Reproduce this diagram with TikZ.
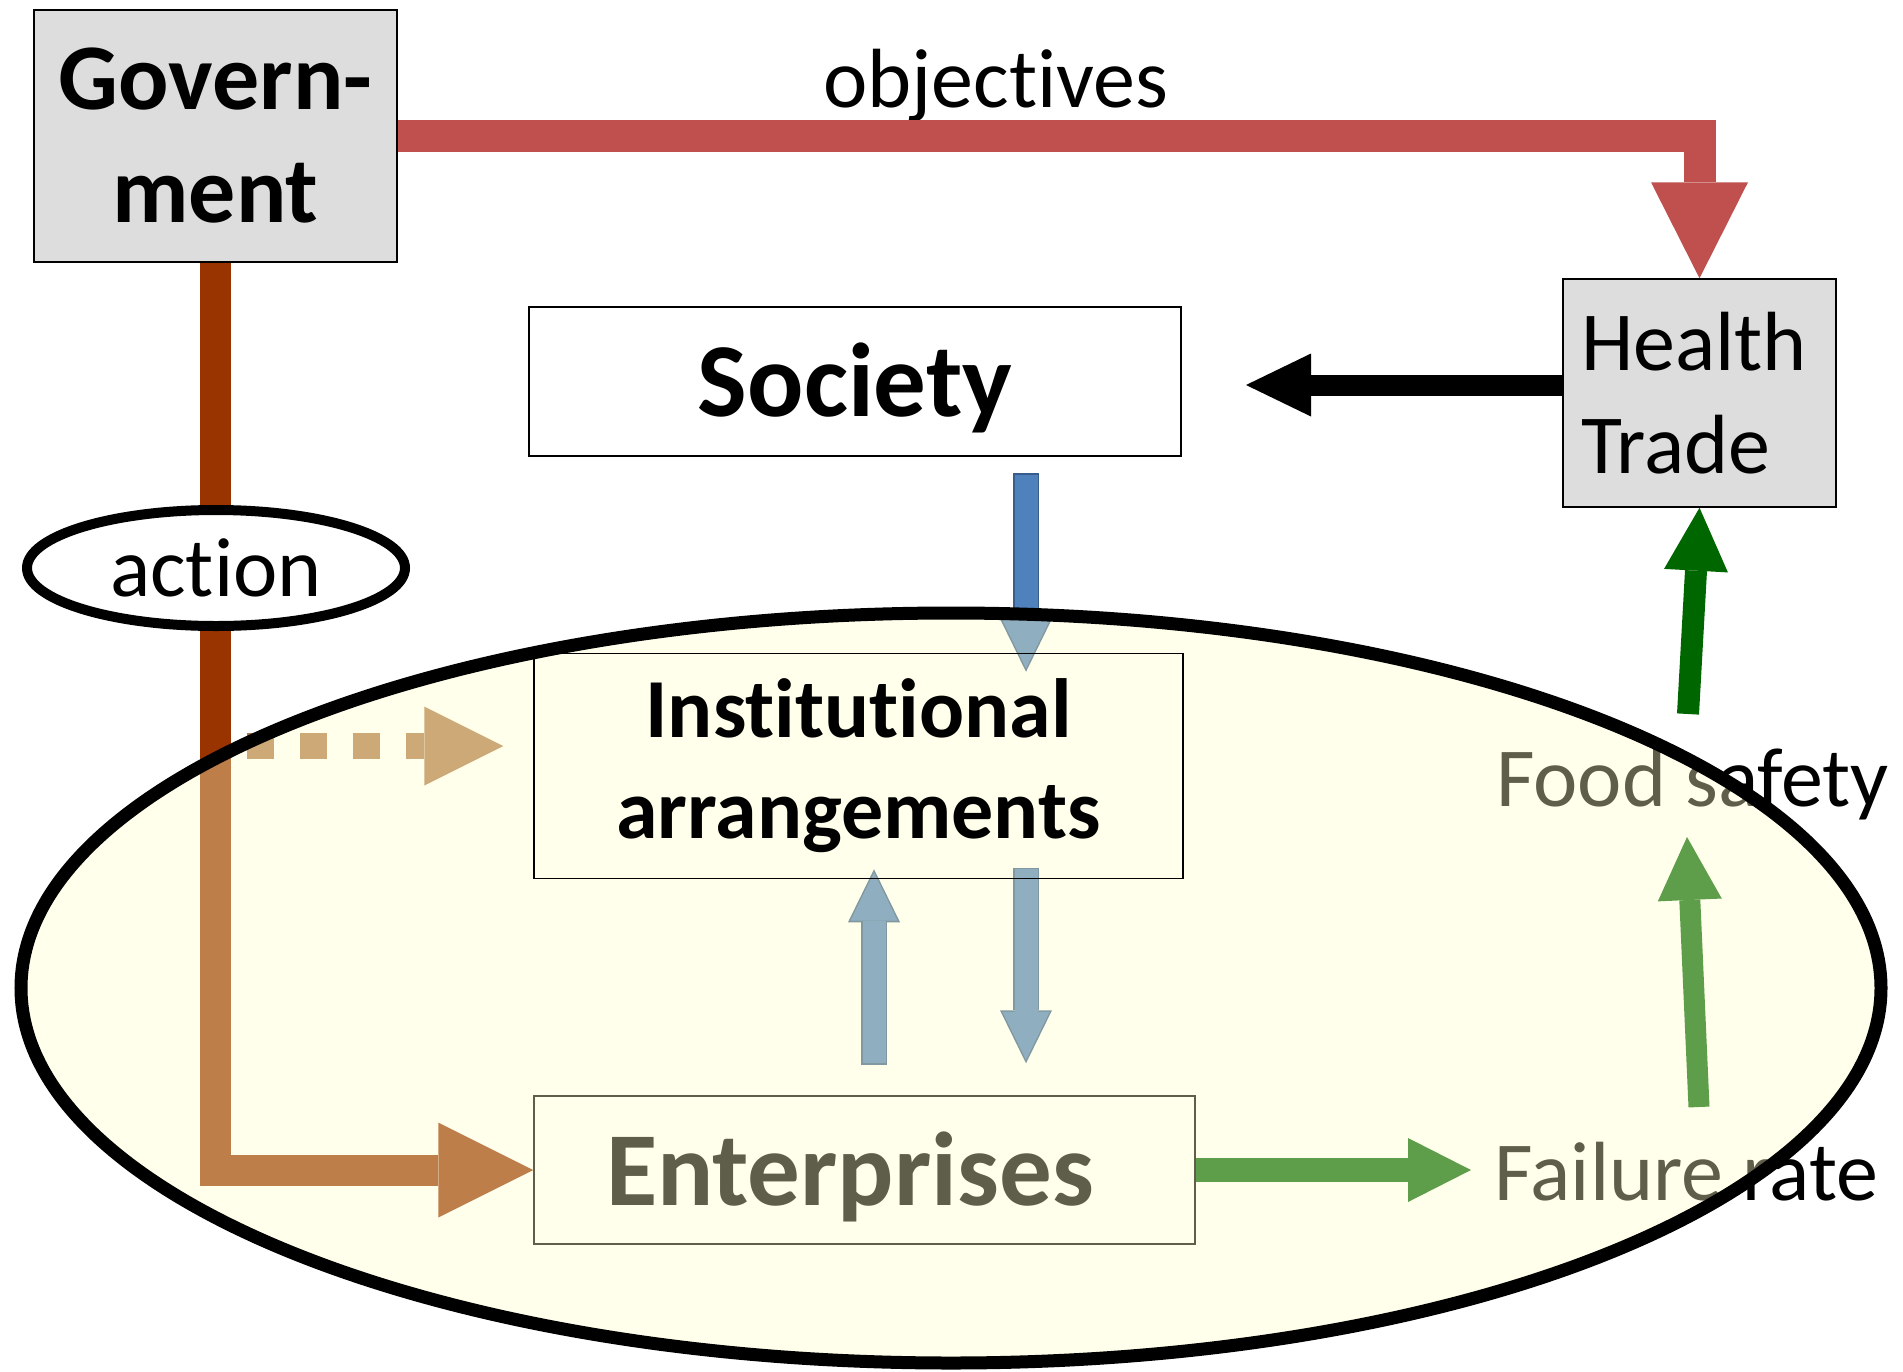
\documentclass[tikz,border=0pt]{standalone}
\usepackage{fontspec}
\setmainfont{Carlito}[Ligatures=NoCommon]
\usetikzlibrary{arrows.meta,shapes.geometric,calc}
\pgfdeclarelayer{veil}
\pgfdeclarelayer{front}
\pgfsetlayers{main,veil,front}
\definecolor{redarr}{RGB}{192,80,77}
\definecolor{brownarr}{RGB}{153,51,0}
\definecolor{boxgray}{RGB}{221,221,221}
\definecolor{bluefill}{RGB}{79,129,189}
\definecolor{blueedge}{RGB}{56,93,138}
\definecolor{greenarr}{RGB}{0,102,0}
\definecolor{tanarr}{RGB}{176,120,72}
\definecolor{veilcol}{RGB}{255,255,201}
\newcommand{\fsz}[2]{\fontsize{#1pt}{#2pt}\selectfont}
\begin{document}
\begin{tikzpicture}[x=1pt,y=-1pt,
  graybox/.style={draw=black,line width=1.5pt,fill=boxgray},
  plainbox/.style={draw=black,line width=1.5pt},
  txt/.style={inner sep=0pt,font=\fsz{84}{101}},
  fatred/.style={draw=redarr,line width=32pt,-{Triangle[length=96pt,width=97pt,line width=0pt]}},
  fatbrown/.style={draw=brownarr,line width=31pt,-{Triangle[length=95pt,width=95pt,line width=0pt]}},
  fatblack/.style={draw=black,line width=21pt,-{Triangle[length=65pt,width=63pt,line width=0pt]}},
  blueouter/.style={draw=blueedge,line width=26pt,shorten <=-1.5pt,-{Triangle[length=53pt,width=52pt,line width=0pt]}},
  blueinner/.style={draw=bluefill,line width=23pt,shorten >=3.4pt,-{Triangle[length=48pt,width=47pt,line width=0pt]}},
  greenflow/.style={draw=greenarr,line width=#1,-{Triangle[length=63pt,width=64pt,line width=0pt]}},
  greenflow/.default=22pt,
  tanflow/.style={draw=tanarr,line width=26pt,dash pattern=on 27pt off 26pt,-{Triangle[length=79pt,width=79pt,line width=0pt]}},
]
\fill[white] (0,0) rectangle (1903,1371);
\useasboundingbox (0,0) rectangle (1903,1371);

% boxes
\node[graybox,minimum width=363pt,minimum height=252pt,inner sep=0pt,align=center,
      font=\bfseries\fsz{94}{113}] (gov) at (215.5,136) {Govern-\\ment};
\node[graybox,minimum height=228pt,inner xsep=18pt,inner ysep=0pt,text width=237pt,
      align=left,font=\fsz{84}{103}] (hlth) at (1699.5,393) {Health\\Trade};
\node[plainbox,fill=white,minimum width=652pt,minimum height=149pt,inner sep=0pt,
      text height=69pt,text depth=0pt,font=\bfseries\fsz{105}{126}] (soc) at (855,381.5) {Society};
\node[plainbox,minimum width=661pt,minimum height=148pt,inner sep=0pt,
      text height=70pt,text depth=0pt,font=\bfseries\fsz{105}{126}] (ent) at (864.5,1170) {Enterprises\hspace*{29pt}};

% plain texts
\node[txt,anchor=base] (obj) at (996,107) {objectives};
\node[txt,anchor=base west] (fs) at (1496,806) {Food safety};
\node[txt,anchor=base west] (fr) at (1494,1200) {Failure rate};

% front layer: institutional box
\begin{pgfonlayer}{front}
\node[plainbox,minimum width=649pt,minimum height=225pt,inner sep=0pt,align=center,
      font=\bfseries\fsz{84}{101}] (inst) at (858.5,766) {Institutional\\arrangements};
\end{pgfonlayer}

% veil ellipse
\begin{pgfonlayer}{veil}
\node[ellipse,draw=black,line width=13pt,fill=veilcol,fill opacity=0.37,
      minimum width=1860pt,minimum height=750pt,inner sep=0pt] (sys) at (951,988) {};
\end{pgfonlayer}

% connectors
\draw[fatred] (gov.east) -| (hlth.north);
\draw[fatbrown] (gov.south) |- (ent.west);
\node[draw=black,line width=10pt,fill=white,ellipse,minimum width=378pt,minimum height=116pt,
      inner sep=0pt,font=\fsz{84}{101}] (act) at (216,568) {action};

\coordinate (blk) at (1246,385);
\draw[fatblack] (hlth.west |- blk) -- (blk);

% blue arrows
\draw[blueouter] ($(soc.south)+(171,18)$) -- ($(inst.north)+(167.5,19)$);
\draw[blueinner] ($(soc.south)+(171,18)$) -- ($(inst.north)+(167.5,19)$);
\draw[blueouter] ($(ent.north)+(9.5,-32)$) -- ($(inst.south)+(15.5,-10)$);
\draw[blueinner] ($(ent.north)+(9.5,-32)$) -- ($(inst.south)+(15.5,-10)$);
\draw[blueouter] ($(inst.south)+(167.5,-10)$) -- ($(ent.north)+(161.5,-32)$);
\draw[blueinner] ($(inst.south)+(167.5,-10)$) -- ($(ent.north)+(161.5,-32)$);

% green arrows
\draw[greenflow=24pt] (ent.east) -- ($(fr.base west)+(-23,-30)$);
\draw[greenflow=21pt] ($(fr.base west)+(205,-93)$) -- ($(fs.base west)+(191,31)$);
\draw[greenflow=22pt] ($(fs.base west)+(192,-92)$) -- (hlth.south);

% dashed tan arrow
\coordinate (dstart) at (247,746);
\draw[tanflow] (dstart) -- ($(inst.west)+(-30,-20)$);
\end{tikzpicture}
\end{document}
